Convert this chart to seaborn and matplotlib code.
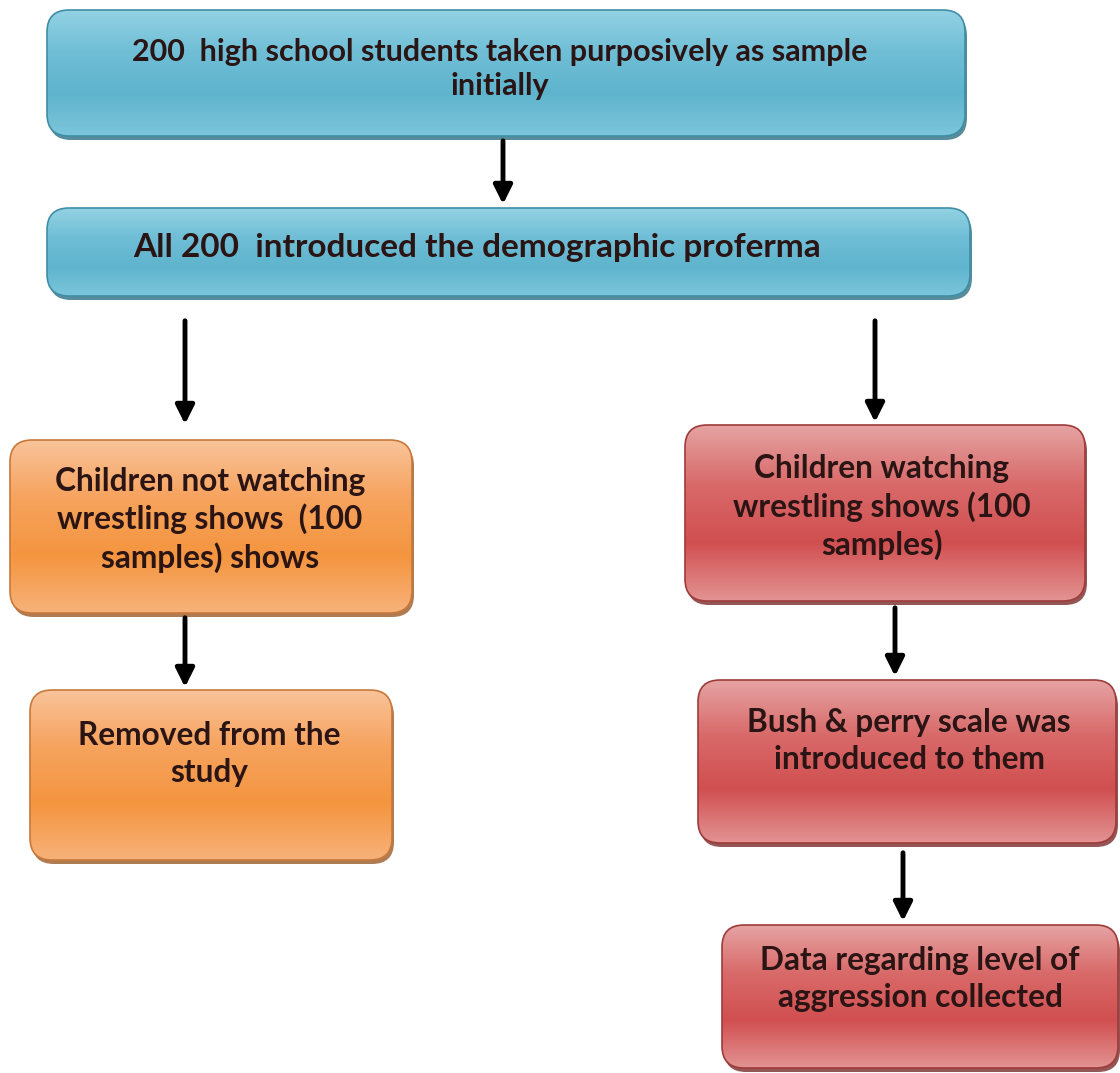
import numpy as np
import matplotlib
matplotlib.use("Agg")
import matplotlib.pyplot as plt
import seaborn as sns
from matplotlib.patches import FancyBboxPatch
from matplotlib.colors import LinearSegmentedColormap

sns.set_theme(style="white")
plt.rcParams['font.family'] = ['Lato', 'DejaVu Sans']

# Flowchart text
box_labels = [
    "200  high school students taken purposively as sample\ninitially",
    "All 200  introduced the demographic proferma",
    "Children not watching\nwrestling shows  (100\nsamples) shows",
    "Removed from the\nstudy",
    "Children watching\nwrestling shows (100\nsamples)",
    "Bush & perry scale was\nintroduced to them",
    "Data regarding level of\naggression collected",
]
box_kind = ["blue", "blue", "orange", "orange", "red", "red", "red"]

# layout (pixels): x0, y0, x1, y1, text x, text y, font size
layout = [
    (47, 10, 965, 136, 500, 69, 22),
    (47, 208, 970, 296, 477, 248, 24),
    (10, 440, 412, 613, 210, 520, 22.8),
    (30, 690, 392, 860, 209, 754, 22.8),
    (685, 425, 1085, 601, 882, 507, 22.8),
    (698, 680, 1116, 843, 909, 741, 22.8),
    (722, 925, 1118, 1068, 920, 979, 22.8),
]
arrows = [(503, 138, 207), (185, 318, 427), (875, 318, 425),
          (185, 615, 690), (895, 605, 679), (903, 850, 924)]

gradients = {
    "blue": ["#93d2e3", "#6fbed6", "#5fb4cd", "#7cc6db"],
    "orange": ["#f9c39a", "#f6a35e", "#f4953f", "#f7b27a"],
    "red": ["#e6a3a3", "#d96a6a", "#d14f50", "#e39393"],
}
edges = {"blue": "#3f8ea6", "orange": "#c8783a", "red": "#9e3b3b"}
shadow = {"blue": "#2f6f82", "orange": "#9a5a28", "red": "#7a2a2a"}

fig = plt.figure(figsize=(11.2, 10.73), dpi=100)
ax = fig.add_axes([0, 0, 1, 1])
ax.set_xlim(0, 1120)
ax.set_ylim(1073, 0)
ax.axis("off")

for label, kind, (x0, y0, x1, y1, tx, ty, fs) in zip(box_labels, box_kind, layout):
    r = 22
    sh = FancyBboxPatch((x0 + r + 2, y0 + r + 4), x1 - x0 - 2 * r, y1 - y0 - 2 * r,
                        boxstyle=f"round,pad={r},rounding_size={r}",
                        fc=shadow[kind], ec="none", alpha=0.8, zorder=1)
    ax.add_patch(sh)
    box = FancyBboxPatch((x0 + r, y0 + r), x1 - x0 - 2 * r, y1 - y0 - 2 * r,
                         boxstyle=f"round,pad={r},rounding_size={r}",
                         fc="none", ec=edges[kind], lw=1.2, zorder=3)
    ax.add_patch(box)
    cmap = LinearSegmentedColormap.from_list(kind, gradients[kind])
    grad = np.linspace(0, 1, 256).reshape(-1, 1)
    im = ax.imshow(grad, cmap=cmap, aspect="auto", extent=(x0, x1, y1, y0), zorder=2)
    im.set_clip_path(box)
    ax.text(tx, ty, label, ha="center", va="center", fontsize=fs, fontweight="bold",
            color="#2a1414", linespacing=1.3, zorder=4)

for x, ys, ye in arrows:
    ax.annotate("", xy=(x, ye), xytext=(x, ys),
                arrowprops=dict(arrowstyle="-|>", lw=3.5, color="black", mutation_scale=28))

ax.set_xlim(0, 1120)
ax.set_ylim(1073, 0)
fig.savefig("out.png", dpi=100)
